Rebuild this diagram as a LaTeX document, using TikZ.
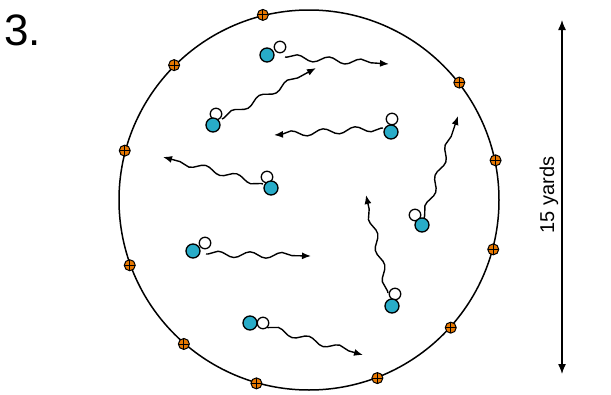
\documentclass[tikz,border=0pt]{standalone}
\usepackage{fontspec}
\setmainfont{Liberation Sans}
\usetikzlibrary{decorations.pathmorphing,arrows.meta}
\definecolor{plblue}{RGB}{40,172,200}
\definecolor{mkorange}{RGB}{232,120,0}
\begin{document}
\begin{tikzpicture}[x=1pt,y=-1pt,
  bplayer/.style={circle, draw, line width=1.3pt, fill=plblue, minimum size=14pt, inner sep=0pt},
  wplayer/.style={circle, draw, line width=1.3pt, fill=white, minimum size=11.5pt, inner sep=0pt},
  marker/.style={circle, draw, line width=1pt, fill=mkorange, minimum size=11pt, inner sep=0pt,
    path picture={\draw[line width=0.9pt] (path picture bounding box.north) -- (path picture bounding box.south)
      (path picture bounding box.west) -- (path picture bounding box.east);}},
  run/.style={line width=1.4pt, decorate,
    decoration={snake, amplitude=3pt, segment length=32pt, post length=6pt, pre length=2pt},
    -{Latex[length=9pt,width=7pt]}},
]
\useasboundingbox (0,0) rectangle (611,394);

% field
\node[circle, draw, line width=1.5pt, minimum size=380pt, inner sep=0pt] (field) at (309,200) {};

% markers on the boundary
\foreach \a [count=\i] in {104.5,135.9,165.4,200.3,229.8,254.2,291.1,318.8,345.5,12.4,38.3}
  \node[marker] (m\i) at (field.\a) {};

% title
\node[anchor=base west, inner sep=0pt, font=\fontsize{44}{44}\selectfont] (num) at (4,45) {3.};

% scale
\coordinate (top) at (562,20);
\coordinate (bot) at (562,374);
\draw[{Latex[length=10pt,width=8pt]}-{Latex[length=10pt,width=8pt]}, line width=1.3pt] (top) -- (bot);
\node[rotate=90, anchor=base, inner sep=0pt, font=\fontsize{20}{20}\selectfont] (yards) at (554,195) {15 yards};

% run paths
\coordinate (s1) at (285,57);  \coordinate (e1) at (389,64);
\coordinate (s2) at (222,119); \coordinate (e2) at (316,68);
\coordinate (s3) at (383,128); \coordinate (e3) at (274,135);
\coordinate (s4) at (263,184); \coordinate (e4) at (163,157);
\coordinate (s5) at (424,218); \coordinate (e5) at (458,116);
\coordinate (s6) at (206,254); \coordinate (e6) at (311,256);
\coordinate (s7) at (388,293); \coordinate (e7) at (366,195);
\coordinate (s8) at (266,327); \coordinate (e8) at (363,355);
\foreach \i in {1,...,8}
  \draw[run] (s\i) -- (e\i);

% players: white then blue
\node[wplayer] (w1) at (280,47) {};
\node[wplayer] (w2) at (216,114) {};
\node[wplayer] (w3) at (392,119) {};
\node[wplayer] (w4) at (267,177) {};
\node[wplayer] (w5) at (415,215) {};
\node[wplayer] (w6) at (205,243) {};
\node[wplayer] (w7) at (395,294) {};
\node[wplayer] (w8) at (263,323) {};
\node[bplayer] (b1) at (267,55) {};
\node[bplayer] (b2) at (213,125) {};
\node[bplayer] (b3) at (391,132) {};
\node[bplayer] (b4) at (271,188) {};
\node[bplayer] (b5) at (422,225) {};
\node[bplayer] (b6) at (193,251) {};
\node[bplayer] (b7) at (392,306) {};
\node[bplayer] (b8) at (250,323) {};
\end{tikzpicture}
\end{document}
